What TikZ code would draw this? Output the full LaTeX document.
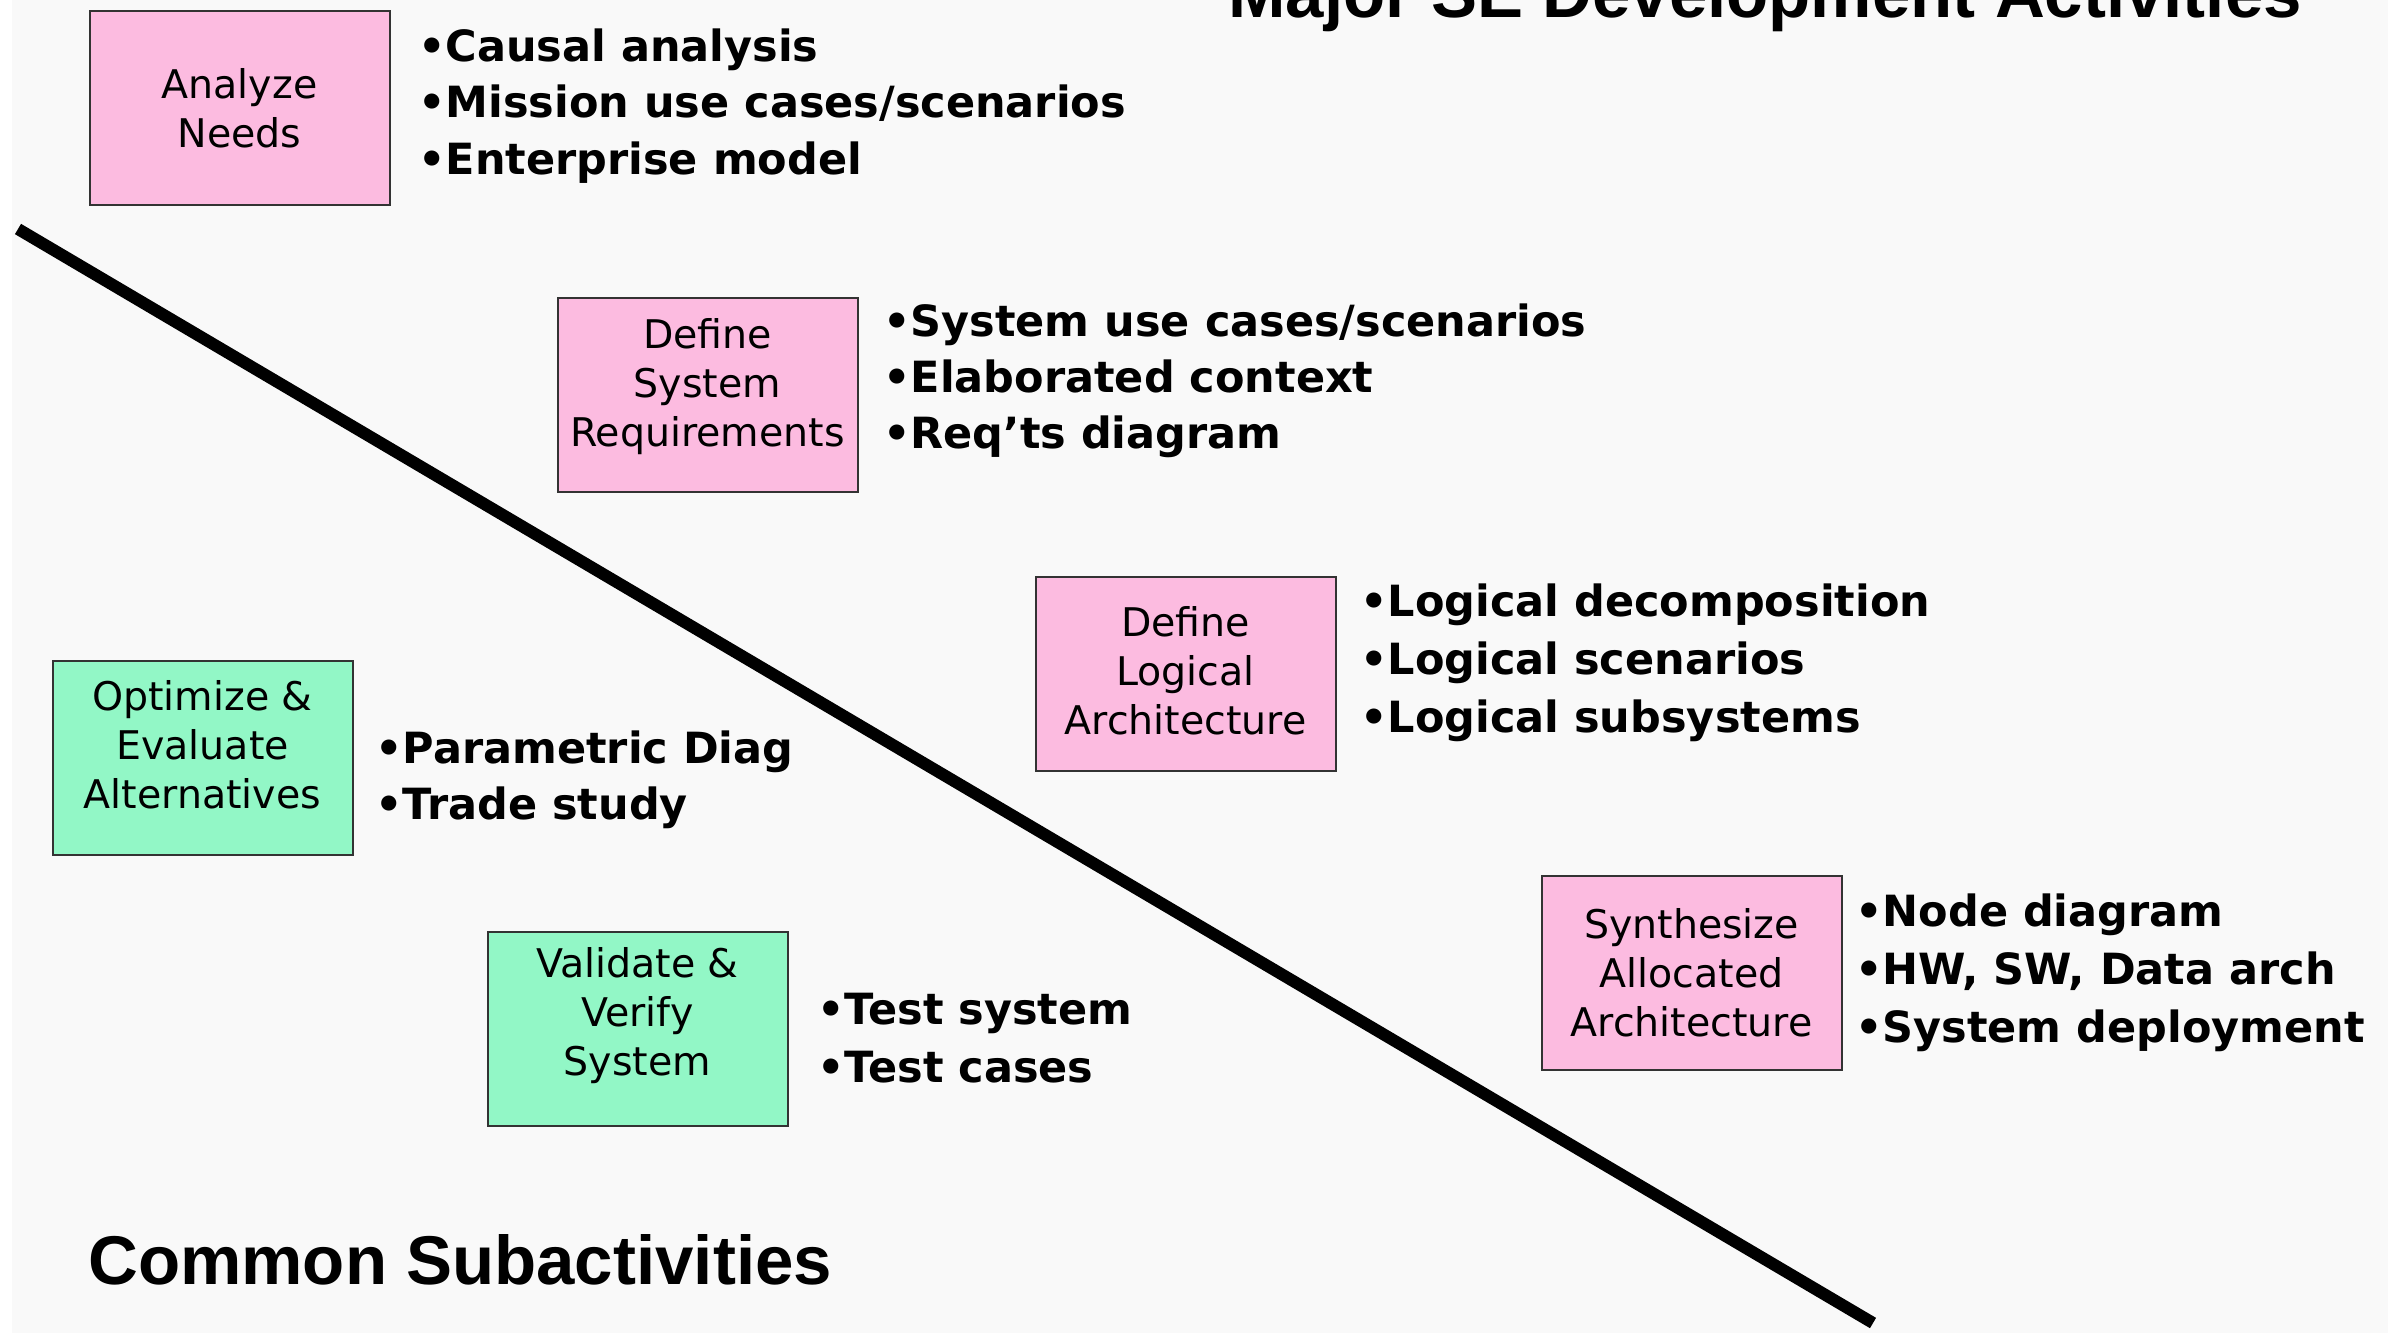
\documentclass[tikz,border=0pt]{standalone}
\usepackage{fontspec}
\newfontfamily\boxfont{DejaVu Sans}
\newfontfamily\headfont{Liberation Sans}
\definecolor{bgray}{HTML}{F9F9F9}
\definecolor{pinkfill}{HTML}{FCBBE0}
\definecolor{greenfill}{HTML}{92F7C6}
\definecolor{boxline}{HTML}{333333}
\tikzset{
  actbox/.style={draw=boxline, line width=2pt, minimum width=300pt, minimum height=194pt, inner sep=0pt},
  pinkact/.style={actbox, fill=pinkfill},
  greenact/.style={actbox, fill=greenfill},
  boxtext/.style={font=\boxfont\fontsize{39.5}{49}\selectfont, align=center, inner sep=0pt},
  bul/.style={font=\boxfont\bfseries\fontsize{43}{57}\selectfont, anchor=base west, inner sep=0pt},
  head/.style={font=\headfont\bfseries\fontsize{69}{80}\selectfont, anchor=base west, inner sep=0pt},
  divider/.style={line width=12pt, black}
}
\begin{document}
\begin{tikzpicture}[x=1pt,y=-1pt]
\useasboundingbox (0,0) rectangle (2392,1333);
\fill[white] (0,0) rectangle (2392,1333);
\fill[bgray] (12,0) rectangle (2388,1333);

% divider line
\coordinate (lineA) at (18,229);
\coordinate (lineB) at (1873,1323);
\draw[divider] (lineA) -- (lineB);

% titles
\node[head] (title) at (1228,17) {Major SE Development Activities};
\node[head] (common) at (88,1284) {Common Subactivities};

% Analyze Needs
\node[pinkact] (an) at (239.5,108) {};
\node[boxtext] (anT) at (an.center) {Analyze\\Needs};
\node[bul] (an1) at (418,61) {•Causal analysis};
\node[bul] (an2) at (418,117) {•Mission use cases/scenarios};
\node[bul] (an3) at (418,174) {•Enterprise model};

% Define System Requirements
\node[pinkact] (dsr) at (707.5,395) {};
\node[boxtext] (dsrT) at ([yshift=8pt]dsr.center) {Define\\System\\Requirements};
\node[bul] (dsr1) at (883,336) {•System use cases/scenarios};
\node[bul] (dsr2) at (883,392) {•Elaborated context};
\node[bul] (dsr3) at (883,448) {•Req’ts diagram};

% Define Logical Architecture
\node[pinkact] (dla) at (1185.5,673.5) {};
\node[boxtext] (dlaT) at ([yshift=3pt]dla.center) {Define\\Logical\\Architecture};
\node[bul] (dla1) at (1360,616) {•Logical decomposition};
\node[bul] (dla2) at (1360,674) {•Logical scenarios};
\node[bul] (dla3) at (1360,732) {•Logical subsystems};

% Synthesize Allocated Architecture
\node[pinkact] (saa) at (1691.5,972.5) {};
\node[boxtext] (saaT) at (saa.center) {Synthesize\\Allocated\\Architecture};
\node[bul] (saa1) at (1855,926) {•Node diagram};
\node[bul] (saa2) at (1855,984) {•HW, SW, Data arch};
\node[bul] (saa3) at (1855,1042) {•System deployment};

% Optimize & Evaluate Alternatives
\node[greenact] (oea) at (202.5,757.5) {};
\node[boxtext] (oeaT) at ([yshift=13pt]oea.center) {Optimize \&\\Evaluate\\Alternatives};
\node[bul] (oea1) at (375,763) {•Parametric Diag};
\node[bul] (oea2) at (375,819) {•Trade study};

% Validate & Verify System
\node[greenact] (vvs) at (637.5,1029) {};
\node[boxtext] (vvsT) at ([yshift=13pt]vvs.center) {Validate \&\\Verify\\System};
\node[bul] (vvs1) at (817,1024) {•Test system};
\node[bul] (vvs2) at (817,1082) {•Test cases};
\end{tikzpicture}
\end{document}
